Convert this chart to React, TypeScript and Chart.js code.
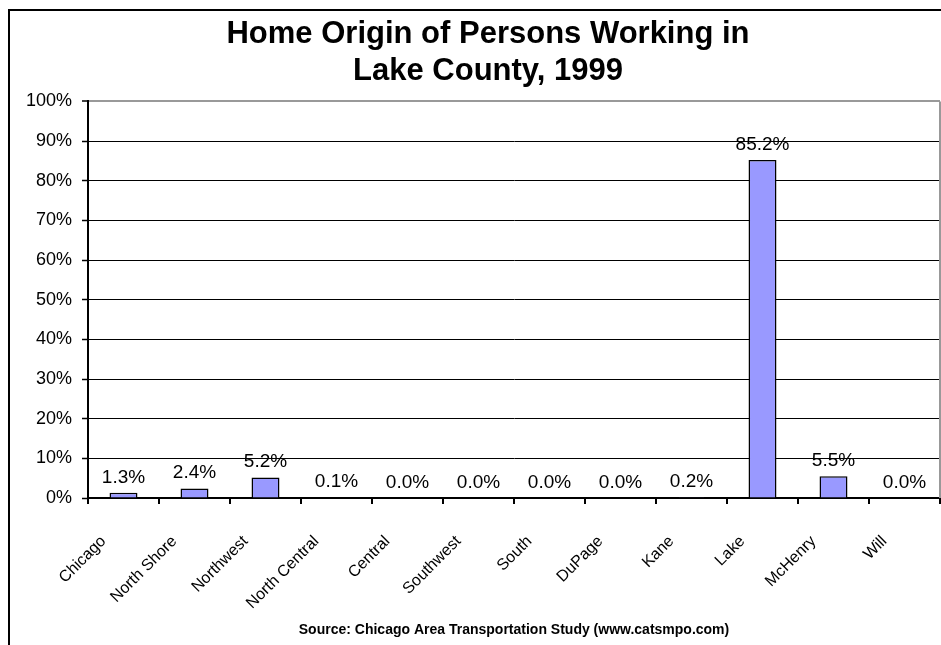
import React, { useEffect, useRef } from "react";
import { Chart, registerables } from "chart.js";

Chart.register(...registerables);

const categories = [
  "Chicago",
  "North Shore",
  "Northwest",
  "North Central",
  "Central",
  "Southwest",
  "South",
  "DuPage",
  "Kane",
  "Lake",
  "McHenry",
  "Will",
];
const shares = [1.3, 2.4, 5.2, 0.1, 0.0, 0.0, 0.0, 0.0, 0.2, 85.2, 5.5, 0.0];
const titleLines = ["Home Origin of Persons Working in", "Lake County, 1999"];
const sourceText = "Source: Chicago Area Transportation Study (www.catsmpo.com)";
const yMin = 0;
const yMax = 100;
const yStep = 10;

const FONT = '"Liberation Sans", Arial, Helvetica, sans-serif';

const valueLabels = {
  id: "valueLabels",
  afterDatasetsDraw(chart: any) {
    const ctx = chart.ctx;
    const meta = chart.getDatasetMeta(0);
    const data = chart.data.datasets[0].data as number[];
    ctx.save();
    ctx.font = `19px ${FONT}`;
    ctx.fillStyle = "#000";
    ctx.textAlign = "center";
    ctx.textBaseline = "middle";
    meta.data.forEach((bar: any, i: number) => {
      ctx.fillText(data[i].toFixed(1) + "%", bar.x, bar.y - 15.5);
    });
    ctx.restore();
  },
};

const plotFrame = {
  id: "plotFrame",
  beforeDatasetsDraw(chart: any) {
    const { ctx, chartArea } = chart;
    ctx.save();
    ctx.strokeStyle = "#999999";
    ctx.lineWidth = 2;
    ctx.beginPath();
    ctx.moveTo(chartArea.right, chartArea.top);
    ctx.lineTo(chartArea.right, chartArea.bottom);
    ctx.stroke();
    ctx.restore();
  },
};

export default function App() {
  const canvasRef = useRef<HTMLCanvasElement | null>(null);

  useEffect(() => {
    const canvas = canvasRef.current;
    if (!canvas) return;
    const chart = new Chart(canvas, {
      type: "bar",
      data: {
        labels: categories,
        datasets: [
          {
            data: shares,
            backgroundColor: "#9999FF",
            borderColor: "#000000",
            borderWidth: 1.5,
            borderSkipped: "start",
            barPercentage: 0.394,
            categoryPercentage: 1,
          },
        ],
      },
      options: {
        responsive: false,
        animation: false,
        devicePixelRatio: 1,
        layout: { padding: { left: 0, right: 0, top: 0, bottom: 0 } },
        plugins: {
          legend: { display: false },
          tooltip: { enabled: false },
          title: {
            display: true,
            text: titleLines,
            color: "#000",
            font: { family: FONT, size: 31, weight: "bold", lineHeight: 1.2 },
            padding: { top: 5, bottom: 11 },
          },
        },
        scales: {
          x: {
            offset: true,
            border: { display: true, color: "#000", width: 2 },
            grid: {
              offset: true,
              drawOnChartArea: false,
              drawTicks: true,
              tickLength: 6,
              tickColor: "#000",
              lineWidth: 2,
            },
            ticks: {
              autoSkip: false,
              maxRotation: 45,
              minRotation: 45,
              padding: 28,
              labelOffset: -20,
              color: "#000",
              font: { family: FONT, size: 16 },
            },
            title: {
              display: true,
              text: sourceText,
              color: "#000",
              font: { family: FONT, size: 14, weight: "bold", lineHeight: 1.2 },
              padding: { top: 0, bottom: 6 },
            },
            afterFit(scale: any) {
              scale.height = 147;
            },
          },
          y: {
            min: yMin,
            max: yMax,
            border: { display: true, color: "#000", width: 2 },
            grid: {
              color: (c: any) =>
                c.tick && c.tick.value === yMax
                  ? "#999999"
                  : c.tick && c.tick.value === yMin
                  ? "rgba(0,0,0,0)"
                  : "#000",
              lineWidth: (c: any) => (c.tick && c.tick.value === yMax ? 2 : 1),
              tickColor: "#000",
              tickWidth: 1.5,
              tickLength: 6,
              drawTicks: true,
            },
            ticks: {
              stepSize: yStep,
              padding: 10,
              color: "#000",
              font: { family: FONT, size: 18 },
              callback: (v: any) => `${v}%`,
            },
            afterFit(scale: any) {
              scale.width = 78;
            },
          },
          spacer: {
            type: "linear",
            position: "right",
            display: true,
            min: 0,
            max: 1,
            grid: { display: false, drawOnChartArea: false, drawTicks: false },
            border: { display: false },
            ticks: { display: false },
            afterFit(scale: any) {
              scale.width = 26;
            },
          },
        },
      } as any,
      plugins: [plotFrame, valueLabels],
    });
    return () => chart.destroy();
  }, []);

  return (
    <div
      style={{
        position: "fixed",
        left: 8,
        top: 9,
        width: 933,
        height: 636,
        overflow: "hidden",
        background: "#fff",
      }}
    >
      <div
        style={{
          borderLeft: "2px solid #000",
          borderTop: "2px solid #000",
          width: 980,
          height: 660,
          boxSizing: "border-box",
        }}
      >
        <canvas ref={canvasRef} width={956} height={634} style={{ display: "block" }} />
      </div>
    </div>
  );
}
